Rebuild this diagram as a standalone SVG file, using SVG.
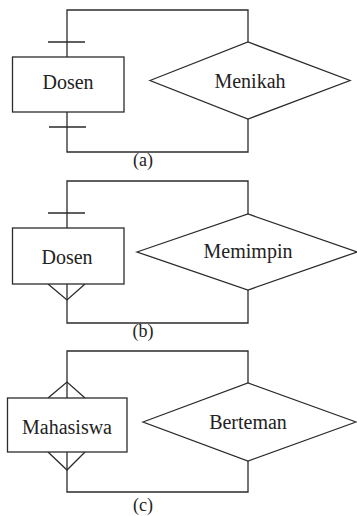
<svg xmlns="http://www.w3.org/2000/svg" width="357" height="516" viewBox="0 0 357 516">
<style>
.s{fill:none;stroke:#2b2b2b;stroke-width:1.3}
.b{fill:#fff;stroke:#2b2b2b;stroke-width:1.3}
text{font-family:'Liberation Serif','Times New Roman',serif;font-size:20px;fill:#222;text-anchor:middle}
.c{font-size:18px}
</style>
<rect width="357" height="516" fill="#fff"/>
<g id="connectors">
<path class="s" d="M67,57 V10 H248 V42 M248,119 V152 H67 V112"/>
<path class="s" d="M48,42 H85 M49,127 H86"/>
<path class="s" d="M67,228 V181 H248 V214 M248,290 V323 H67 V284"/>
<path class="s" d="M48,213 H85 M48,284 L67,300 L85,284"/>
<path class="s" d="M67,398 V351 H248 V383 M248,461 V492 H67 V452"/>
<path class="s" d="M48,398 L67,382 L85,398 M48,452 L67,470 L85,452"/>
</g>
<g id="dosen-a"><rect class="b" x="12.5" y="57" width="111.5" height="55"/><text x="68" y="89">Dosen</text></g>
<g id="menikah"><polygon class="b" points="150,80.5 248,42 350,80.5 248,119"/><text x="250" y="88">Menikah</text></g>
<text class="c" x="143" y="166">(a)</text>
<g id="dosen-b"><rect class="b" x="12.5" y="228" width="111.5" height="56"/><text x="67" y="264">Dosen</text></g>
<g id="memimpin"><polygon class="b" points="137,252 248,214 357,252 248,290"/><text x="248" y="258">Memimpin</text></g>
<text class="c" x="143" y="337">(b)</text>
<g id="mahasiswa"><rect class="b" x="7.5" y="398" width="119.5" height="54"/><text x="67" y="434">Mahasiswa</text></g>
<g id="berteman"><polygon class="b" points="143,422 248,383 356,422 248,461"/><text x="248" y="429">Berteman</text></g>
<text class="c" x="143" y="511">(c)</text>
</svg>
